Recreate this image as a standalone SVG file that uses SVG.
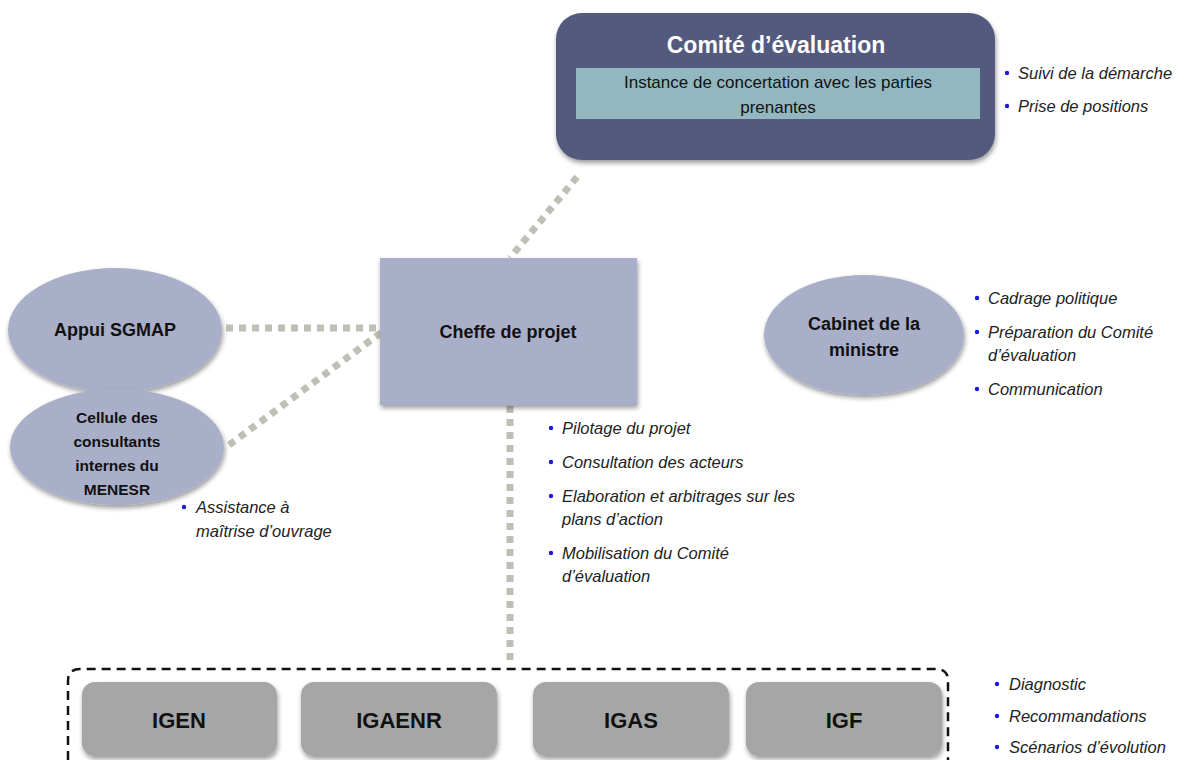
<svg xmlns="http://www.w3.org/2000/svg" width="1184" height="760" viewBox="0 0 1184 760">
<defs>
<filter id="sh" x="-10%" y="-10%" width="125%" height="130%">
<feGaussianBlur in="SourceAlpha" stdDeviation="2.5"/>
<feOffset dx="1" dy="3" result="b"/>
<feComponentTransfer><feFuncA type="linear" slope="0.4"/></feComponentTransfer>
<feMerge><feMergeNode/><feMergeNode in="SourceGraphic"/></feMerge>
</filter>
</defs>
<style>
text{font-family:"Liberation Sans",Arial,sans-serif;}
.node{fill:#a9afc8;filter:url(#sh);}
.bold{font-weight:bold;fill:#111;text-anchor:middle;}
.it{font-style:italic;fill:#222;font-size:16.5px;}
.dot{fill:#1a1ae6;}
.conn{stroke:#bfbfb5;stroke-width:7;stroke-dasharray:7 6;fill:none;}
.insp{fill:#a6a6a6;filter:url(#sh);}
.ititle{font-size:22px;}
</style>
<rect width="1184" height="760" fill="#ffffff"/>

<g id="connectors">
<line class="conn" x1="577" y1="177" x2="510" y2="258"/>
<line class="conn" x1="226" y1="328" x2="380" y2="328"/>
<line class="conn" x1="229" y1="445" x2="382" y2="332"/>
<line class="conn" x1="510" y1="406" x2="510" y2="662"/>
</g>

<g id="comite">
<rect x="556" y="13" width="439" height="147" rx="26" fill="#525a7d" filter="url(#sh)"/>
<text x="776" y="53" font-size="23" font-weight="bold" fill="#ffffff" text-anchor="middle">Comité d’évaluation</text>
<rect x="576" y="68" width="404" height="51" fill="#93b7c1"/>
<text x="778" y="88" font-size="17" fill="#111" text-anchor="middle">Instance de concertation avec les parties</text>
<text x="778" y="113" font-size="17" fill="#111" text-anchor="middle">prenantes</text>
</g>
<g id="comite-notes">
<circle class="dot" cx="1007" cy="73" r="2.2"/>
<text class="it" x="1018" y="79">Suivi de la démarche</text>
<circle class="dot" cx="1007" cy="106" r="2.2"/>
<text class="it" x="1018" y="112">Prise de positions</text>
</g>

<g id="cheffe">
<rect class="node" x="380" y="258" width="257" height="147"/>
<text class="bold" x="508" y="338" font-size="18">Cheffe de projet</text>
</g>
<g id="cheffe-notes">
<circle class="dot" cx="551" cy="428" r="2.2"/>
<text class="it" x="562" y="434">Pilotage du projet</text>
<circle class="dot" cx="551" cy="462" r="2.2"/>
<text class="it" x="562" y="468">Consultation des acteurs</text>
<circle class="dot" cx="551" cy="496" r="2.2"/>
<text class="it" x="562" y="502">Elaboration et arbitrages sur les</text>
<text class="it" x="562" y="525">plans d’action</text>
<circle class="dot" cx="551" cy="553" r="2.2"/>
<text class="it" x="562" y="559">Mobilisation du Comité</text>
<text class="it" x="562" y="582">d’évaluation</text>
</g>

<g id="appui">
<ellipse class="node" cx="115" cy="330" rx="107" ry="62"/>
<text class="bold" x="115" y="336" font-size="18">Appui SGMAP</text>
</g>

<g id="cellule">
<ellipse class="node" cx="117" cy="447" rx="107" ry="58"/>
<text class="bold" x="117" y="423" font-size="15.5">Cellule des</text>
<text class="bold" x="117" y="447" font-size="15.5">consultants</text>
<text class="bold" x="117" y="471" font-size="15.5">internes du</text>
<text class="bold" x="117" y="495" font-size="15.5">MENESR</text>
</g>
<g id="cellule-notes">
<circle class="dot" cx="184" cy="507" r="2.2"/>
<text class="it" x="196" y="513">Assistance à</text>
<text class="it" x="196" y="537">maîtrise d’ouvrage</text>
</g>

<g id="cabinet">
<ellipse class="node" cx="864" cy="335" rx="100" ry="60"/>
<text class="bold" x="864" y="330" font-size="18">Cabinet de la</text>
<text class="bold" x="864" y="356" font-size="18">ministre</text>
</g>
<g id="cabinet-notes">
<circle class="dot" cx="977" cy="298" r="2.2"/>
<text class="it" x="988" y="304">Cadrage politique</text>
<circle class="dot" cx="977" cy="332" r="2.2"/>
<text class="it" x="988" y="338">Préparation du Comité</text>
<text class="it" x="988" y="361">d’évaluation</text>
<circle class="dot" cx="977" cy="389" r="2.2"/>
<text class="it" x="988" y="395">Communication</text>
</g>

<g id="inspections">
<path d="M68,775 L68,681 Q68,669 80,669 L936,669 Q948,669 948,681 L948,775" fill="none" stroke="#111" stroke-width="2.5" stroke-dasharray="9 6"/>
</g>
<g id="igen">
<rect class="insp" x="82" y="682" width="195" height="74" rx="13"/>
<text class="bold ititle" x="179" y="728">IGEN</text>
</g>
<g id="igaenr">
<rect class="insp" x="301" y="682" width="196" height="74" rx="13"/>
<text class="bold ititle" x="399" y="728">IGAENR</text>
</g>
<g id="igas">
<rect class="insp" x="533" y="682" width="196" height="74" rx="13"/>
<text class="bold ititle" x="631" y="728">IGAS</text>
</g>
<g id="igf">
<rect class="insp" x="746" y="682" width="196" height="74" rx="13"/>
<text class="bold ititle" x="844" y="728">IGF</text>
</g>
<g id="inspections-notes">
<circle class="dot" cx="997" cy="684" r="2.2"/>
<text class="it" x="1009" y="690">Diagnostic</text>
<circle class="dot" cx="997" cy="716" r="2.2"/>
<text class="it" x="1009" y="722">Recommandations</text>
<circle class="dot" cx="997" cy="747" r="2.2"/>
<text class="it" x="1009" y="753">Scénarios d’évolution</text>
</g>
</svg>
